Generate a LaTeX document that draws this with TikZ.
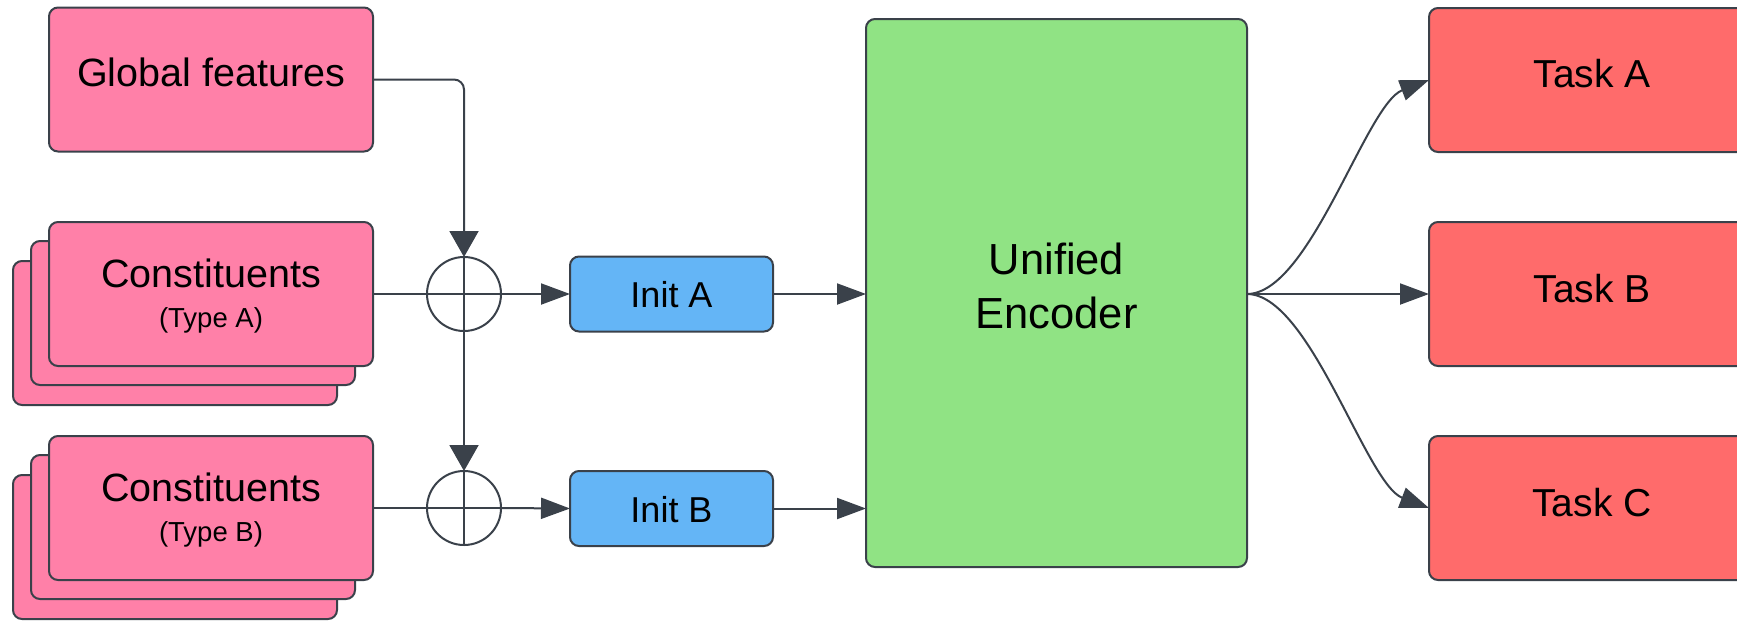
\documentclass[tikz,border=0pt]{standalone}
\usepackage{fontspec}
\setmainfont{Liberation Sans}
\usetikzlibrary{arrows.meta}
\definecolor{pinkf}{HTML}{FF80A8}
\definecolor{bluef}{HTML}{64B5F6}
\definecolor{greenf}{HTML}{90E384}
\definecolor{redf}{HTML}{FF6B6B}
\definecolor{strk}{HTML}{3A414A}
\begin{document}
\begin{tikzpicture}[x=1pt,y=-1pt,
  box/.style={rectangle, draw=strk, line width=2pt, rounded corners=9pt, inner sep=0pt, outer sep=0pt},
  pbox/.style={box, fill=pinkf, minimum width=324pt, minimum height=144pt},
  ibox/.style={box, fill=bluef, minimum width=203pt, minimum height=75pt},
  tbox/.style={box, fill=redf, minimum width=326pt, minimum height=144pt},
  ebox/.style={box, fill=greenf, minimum width=381pt, minimum height=548pt},
  plus/.style={circle, draw=strk, line width=2pt, minimum size=74pt, inner sep=0pt, outer sep=0pt},
  txt/.style={anchor=base, inner sep=0pt, font=\fontsize{39.5}{47}\selectfont},
  stxt/.style={anchor=base, inner sep=0pt, font=\fontsize{27.5}{33}\selectfont},
  itxt/.style={anchor=base, inner sep=0pt, font=\fontsize{36}{43}\selectfont},
  ttxt/.style={anchor=base, inner sep=0pt, font=\fontsize{39}{47}\selectfont},
  etxt/.style={anchor=base, inner sep=0pt, font=\fontsize{43.5}{52}\selectfont},
  ln/.style={draw=strk, line width=2pt},
  harrow/.style={ln, -{Triangle[length=29pt,width=21pt]}, color=strk},
  varrow/.style={ln, -{Triangle[length=26pt,width=29pt]}, color=strk},
  tarrow/.style={ln, -{Triangle[length=29pt,width=21pt]}, color=strk}
]
\clip (0,0) rectangle (1737,622);
\fill[white] (0,0) rectangle (1737,622);

% Global features
\node[pbox] (GF) at (211,79.5) {};
\node[txt] (GFt) at (211,86) {Global features};

% Constituents A stack
\node[pbox] (CA3) at (175,333) {};
\node[pbox] (CA2) at (193,313) {};
\node[pbox] (CA) at (211,294) {};
\node[txt] (CAt) at (211,287) {Constituents};
\node[stxt] (CAs) at (211,327) {(Type A)};

% Constituents B stack
\node[pbox] (CB3) at (175,547) {};
\node[pbox] (CB2) at (193,527) {};
\node[pbox] (CB) at (211,508) {};
\node[txt] (CBt) at (211,501) {Constituents};
\node[stxt] (CBs) at (211,541) {(Type B)};

% plus circles
\node[plus] (cA) at (464,294) {};
\node[plus] (cB) at (464,508) {};
\draw[ln] (cA.north) -- (cA.south) (cA.west) -- (cA.east);
\draw[ln] (cB.north) -- (cB.south) (cB.west) -- (cB.east);

% Init boxes
\node[ibox] (IA) at (671.5,294) {};
\node[itxt] (IAt) at (671.5,307) {Init A};
\node[ibox] (IB) at (671.5,508.5) {};
\node[itxt] (IBt) at (671.5,522) {Init B};

% Encoder
\node[ebox] (EN) at (1056.5,293) {};
\node[etxt] (ENt1) at (1056.5,274) {Unified};
\node[etxt] (ENt2) at (1056.5,328) {Encoder};

% Tasks
\node[tbox] (TA) at (1592,80) {};
\node[ttxt] (TAt) at (1592,87) {Task A};
\node[tbox] (TB) at (1592,294) {};
\node[ttxt] (TBt) at (1592,302) {Task B};
\node[tbox] (TC) at (1592,508) {};
\node[ttxt] (TCt) at (1592,516) {Task C};

% connectors
\draw[varrow, rounded corners=10pt] (GF.east) -| (cA.north);
\draw[varrow] (cA.south) -- (cB.north);
\draw[ln] (CA.east) -- (cA.west);
\draw[ln] (CB.east) -- (cB.west);
\draw[harrow] (cA.east) -- (IA.west);
\draw[harrow] (cB.east) -- (IB.west);
\draw[harrow] (IA.east) -- (IA.east -| EN.west);
\draw[harrow] (IB.east) -- (IB.east -| EN.west);

\coordinate (EO) at (EN.east |- TB.west);
\draw[tarrow] (EO) .. controls (1310,294) and (1366,104) .. (TA.west);
\draw[tarrow] (EO) -- (TB.west);
\draw[tarrow] (EO) .. controls (1310,294) and (1366,484) .. (TC.west);
\end{tikzpicture}
\end{document}
